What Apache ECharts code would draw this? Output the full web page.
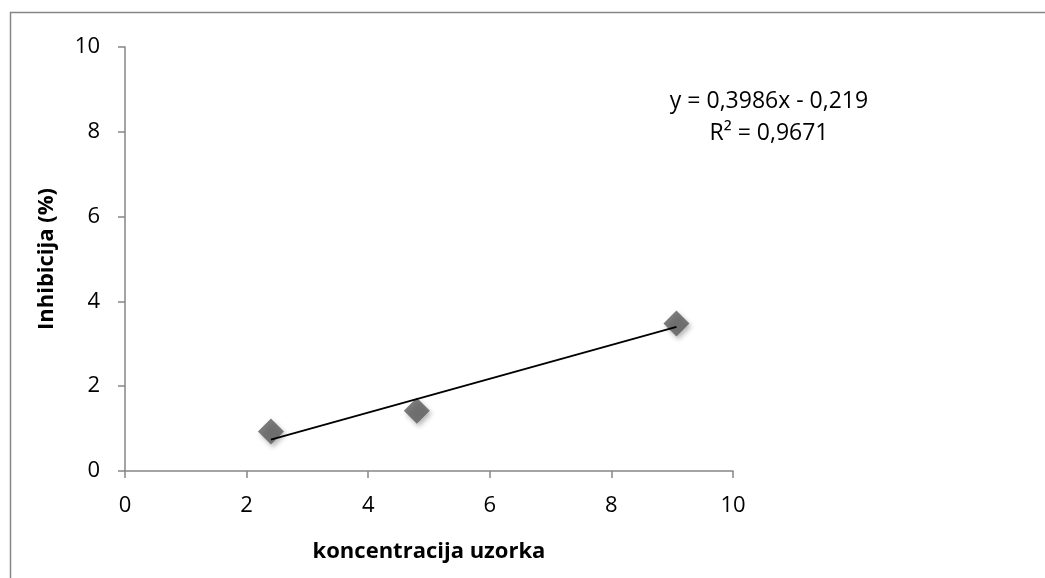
<!DOCTYPE html>
<html>
<head>
<meta charset="utf-8">
<script src="https://cdn.jsdelivr.net/npm/echarts@6/dist/echarts.min.js"></script>
<style>
  html, body { margin: 0; padding: 0; background: #ffffff; }
  #main { width: 1045px; height: 578px; }
</style>
</head>
<body>
<div id="main"></div>
<script>
// izmjerene tocke
const koncentracija = [2.4, 4.8, 9.07];
const inhibicija = [0.93, 1.42, 3.48];
// linija trenda (krajnje tocke ocitane sa slike)
const trendX = [2.4, 9.07];
const trendY = [0.74, 3.40];
const jednadzba = ['y = 0,3986x - 0,219', 'R² = 0,9671'];
const axisTicks = [0, 2, 4, 6, 8, 10];

const chart = echarts.init(document.getElementById('main'));

const font = '"Open Sans", "Liberation Sans", sans-serif';

const option = {
  animation: false,
  grid: { left: 125, right: 312, top: 47, bottom: 107 },
  xAxis: {
    type: 'value',
    min: axisTicks[0],
    max: axisTicks[axisTicks.length - 1],
    interval: 2,
    name: 'koncentracija uzorka',
    nameLocation: 'middle',
    nameGap: 70,
    nameTextStyle: { fontFamily: font, fontSize: 22, fontWeight: 'bold', color: '#000' },
    axisLine: { lineStyle: { color: '#868686', width: 1.5 } },
    axisTick: { length: 7, lineStyle: { color: '#868686', width: 1.5 } },
    axisLabel: { margin: 24, fontFamily: font, fontSize: 22, color: '#000' },
    splitLine: { show: false }
  },
  yAxis: {
    type: 'value',
    min: 0,
    max: 10,
    interval: 2,
    name: 'Inhibicija (%)',
    nameLocation: 'middle',
    nameGap: 67,
    nameTextStyle: { fontFamily: font, fontSize: 22, fontWeight: 'bold', color: '#000' },
    axisLine: { show: true, lineStyle: { color: '#868686', width: 1.5 } },
    axisTick: { show: true, length: 7, lineStyle: { color: '#868686', width: 1.5 } },
    axisLabel: { margin: 25, fontFamily: font, fontSize: 22, color: '#000' },
    splitLine: { show: false }
  },
  series: [
    {
      name: 'trend',
      type: 'line',
      data: trendX.map((x, i) => [x, trendY[i]]),
      symbol: 'none',
      lineStyle: { color: '#000', width: 2 },
      z: 3
    },
    {
      name: 'uzorak',
      type: 'scatter',
      data: koncentracija.map((x, i) => [x, inhibicija[i]]),
      symbol: 'diamond',
      symbolSize: [26, 26],
      itemStyle: {
        color: '#5b5b5b',
        shadowBlur: 5,
        shadowOffsetX: 2,
        shadowOffsetY: 3,
        shadowColor: 'rgba(0,0,0,0.35)'
      },
      z: 2
    }
  ],
  graphic: [
    {
      type: 'rect',
      left: 8, top: 10,
      shape: { width: 1100, height: 600 },
      style: { fill: 'none', stroke: '#868686', lineWidth: 1.5 },
      silent: true
    },
    {
      type: 'text',
      x: 769, y: 101,
      style: {
        text: jednadzba[0], fontFamily: font, fontSize: 23, fill: '#000',
        textAlign: 'center', textVerticalAlign: 'middle'
      }
    },
    {
      type: 'text',
      x: 769, y: 133,
      style: {
        text: jednadzba[1], fontFamily: font, fontSize: 23, fill: '#000',
        textAlign: 'center', textVerticalAlign: 'middle'
      }
    }
  ]
};

chart.setOption(option);
</script>
</body>
</html>
